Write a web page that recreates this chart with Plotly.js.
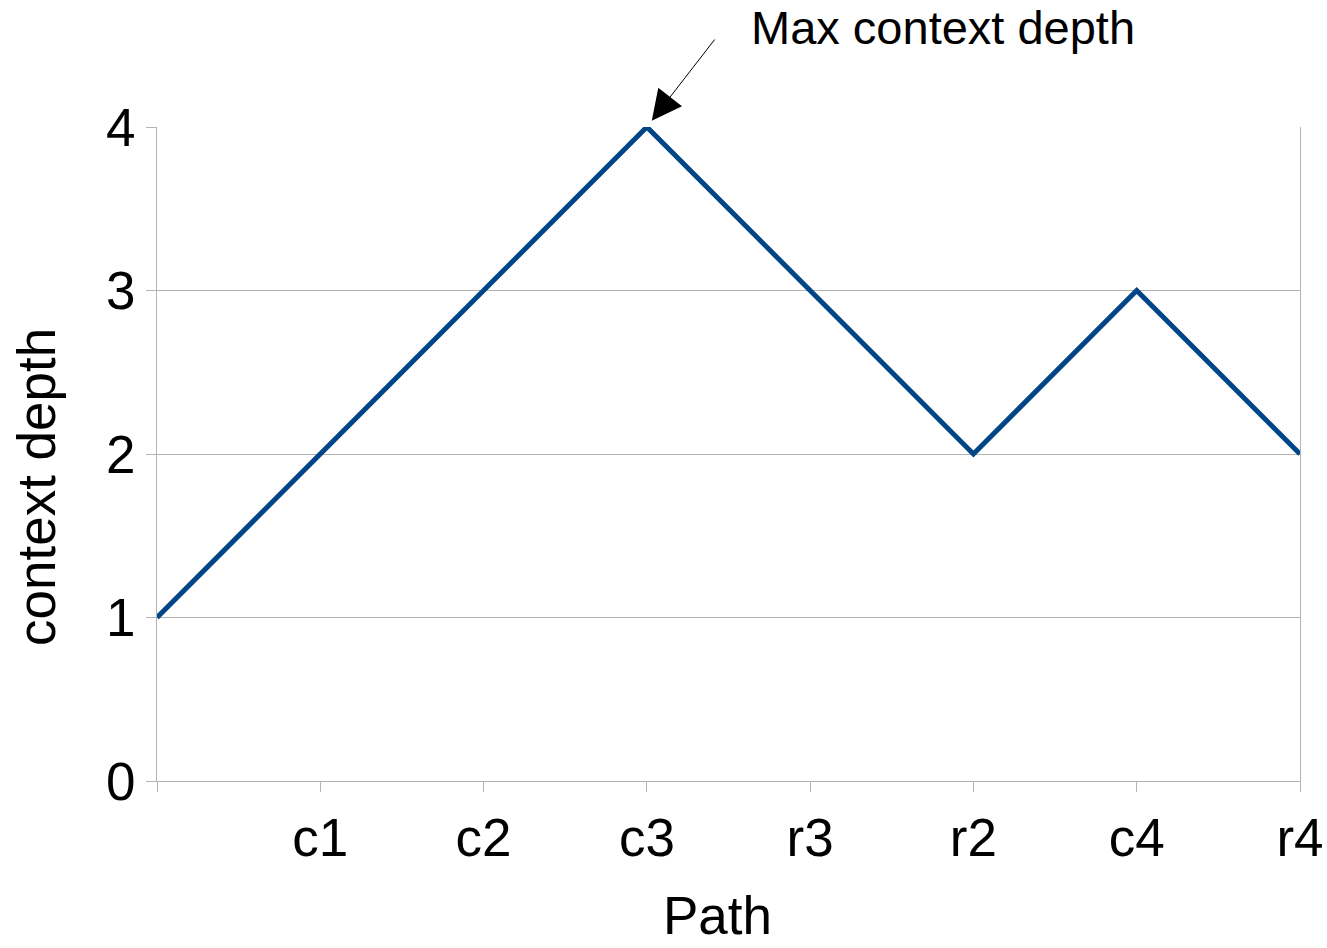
<!DOCTYPE html>
<html>
<head>
<meta charset="utf-8">
<script src="https://cdn.plot.ly/plotly-3.0.1.min.js"></script>
<style>
  html, body { margin: 0; padding: 0; background: #ffffff; }
  #chart { width: 1327px; height: 948px; }
</style>
</head>
<body>
<div id="chart"></div>
<script>
// Path steps along the x axis and the context depth reached at each one
const pathLabels = ['', 'c1', 'c2', 'c3', 'r3', 'r2', 'c4', 'r4'];
const depthValues = [1, 2, 3, 4, 3, 2, 3, 2];
const depthTicks = [0, 1, 2, 3, 4];

const stepIndex = pathLabels.map((_, i) => i);

// Peak of the series, pointed at by the callout
const peakDepth = Math.max(...depthValues);
const peakIndex = depthValues.indexOf(peakDepth);

const FONT = 'Liberation Sans, Arial, sans-serif';
const GRID = '#b3b3b3';

const W = 1327, H = 948;
const margin = { l: 157, r: 27, t: 127, b: 167 };
const plotW = W - margin.l - margin.r;
const plotH = H - margin.t - margin.b;

// Convert page pixels to paper fractions for free-standing text
const px = v => (v - margin.l) / plotW;
const py = v => (H - margin.b - v) / plotH;

const trace = {
  x: stepIndex,
  y: depthValues,
  type: 'scatter',
  mode: 'lines',
  line: { color: '#004586', width: 5 },
  hoverinfo: 'x+y',
  showlegend: false
};

const layout = {
  width: W,
  height: H,
  margin: margin,
  paper_bgcolor: '#ffffff',
  plot_bgcolor: '#ffffff',
  font: { family: FONT, color: '#000000', size: 53 },
  xaxis: {
    range: [0, stepIndex.length - 1],
    tickvals: stepIndex,
    ticktext: pathLabels,
    ticks: 'outside',
    ticklen: 10,
    tickcolor: GRID,
    tickwidth: 1,
    showgrid: false,
    zeroline: false,
    showline: true,
    linecolor: GRID,
    linewidth: 1,
    tickfont: { family: FONT, size: 53, color: '#000000' },
    fixedrange: true
  },
  yaxis: {
    range: [0, peakDepth],
    tickvals: depthTicks,
    ticks: 'outside',
    ticklen: 10,
    tickcolor: GRID,
    tickwidth: 1,
    showgrid: true,
    gridcolor: GRID,
    gridwidth: 1,
    zeroline: false,
    showline: true,
    mirror: true,
    linecolor: GRID,
    linewidth: 1,
    tickfont: { family: FONT, size: 53, color: '#000000' },
    fixedrange: true
  },
  annotations: [
    {
      x: stepIndex[peakIndex],
      y: peakDepth,
      xref: 'x',
      yref: 'y',
      text: '',
      showarrow: true,
      arrowhead: 2,
      arrowsize: 6,
      arrowwidth: 1,
      arrowcolor: '#000000',
      standoff: 8,
      ax: 69,
      ay: -89
    },
    {
      x: px(749),
      y: py(28),
      xref: 'paper',
      yref: 'paper',
      xanchor: 'left',
      yanchor: 'middle',
      text: 'Max context depth',
      showarrow: false,
      font: { family: FONT, size: 47, color: '#000000' }
    },
    {
      // x axis title
      x: px(717),
      y: py(946),
      xref: 'paper',
      yref: 'paper',
      xanchor: 'center',
      yanchor: 'bottom',
      borderpad: 0,
      text: 'Path',
      showarrow: false,
      font: { family: FONT, size: 53, color: '#000000' }
    },
    {
      // y axis title
      x: px(36),
      y: py(487),
      xref: 'paper',
      yref: 'paper',
      xanchor: 'center',
      yanchor: 'middle',
      textangle: -90,
      text: 'context depth',
      showarrow: false,
      font: { family: FONT, size: 53, color: '#000000' }
    }
  ]
};

Plotly.newPlot('chart', [trace], layout, { displayModeBar: false, staticPlot: true });
</script>
</body>
</html>
